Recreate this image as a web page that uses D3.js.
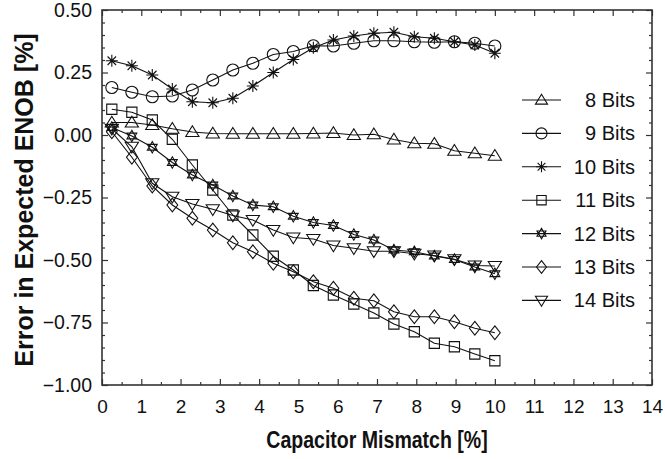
<!DOCTYPE html>
<html>
<head>
<meta charset="utf-8">
<script src="https://cdn.jsdelivr.net/npm/d3@7"></script>
<style>
    body { margin: 0; background: #fff; }
    text { font-family: "Liberation Sans", Arial, sans-serif; fill: #111; }
</style>
</head>
<body>
<script>
//capacitor mismatch values (x) shared by every series
const mismatch = [0.25, 0.76, 1.28, 1.79, 2.30, 2.82, 3.33, 3.84, 4.36, 4.87,
    5.38, 5.89, 6.41, 6.92, 7.43, 7.95, 8.46, 8.97, 9.49, 10.0];

//error in expected ENOB for each resolution
const bits8 = [0.05, 0.05, 0.04, 0.025, 0.012, 0.006, 0.005, 0.005, 0.005, 0.005,
    0.006, 0.008, 0.0, 0.003, -0.018, -0.033, -0.035, -0.063, -0.073, -0.083];
const bits9 = [0.19, 0.171, 0.153, 0.156, 0.18, 0.22, 0.26, 0.287, 0.322, 0.334,
    0.357, 0.356, 0.367, 0.377, 0.377, 0.373, 0.371, 0.373, 0.367, 0.356];
const bits10 = [0.297, 0.277, 0.24, 0.184, 0.133, 0.129, 0.147, 0.196, 0.25, 0.302,
    0.349, 0.38, 0.396, 0.407, 0.411, 0.393, 0.387, 0.373, 0.36, 0.327];
const bits11 = [0.103, 0.091, 0.06, -0.017, -0.12, -0.22, -0.32, -0.40, -0.485, -0.54,
    -0.602, -0.64, -0.676, -0.712, -0.756, -0.787, -0.833, -0.847, -0.876, -0.903];
const bits12 = [0.03, -0.004, -0.049, -0.11, -0.16, -0.20, -0.244, -0.28, -0.287, -0.325,
    -0.35, -0.362, -0.398, -0.42, -0.46, -0.467, -0.484, -0.498, -0.528, -0.555];
const bits13 = [0.013, -0.089, -0.204, -0.28, -0.333, -0.38, -0.431, -0.467, -0.513, -0.547,
    -0.587, -0.613, -0.653, -0.663, -0.707, -0.727, -0.727, -0.747, -0.773, -0.791];
const bits14 = [0.025, -0.047, -0.193, -0.247, -0.276, -0.297, -0.322, -0.34, -0.38, -0.41,
    -0.416, -0.442, -0.453, -0.465, -0.465, -0.475, -0.482, -0.497, -0.522, -0.524];

const seriesNames = ["8 Bits", "9 Bits", "10 Bits", "11 Bits", "12 Bits", "13 Bits", "14 Bits"];
const seriesValues = [bits8, bits9, bits10, bits11, bits12, bits13, bits14];
const markerTypes = ["triUp", "circle", "asterisk", "square", "hexagram", "diamond", "triDown"];

const xTicks = [0, 1, 2, 3, 4, 5, 6, 7, 8, 9, 10, 11, 12, 13, 14];
const yTicks = [0.5, 0.25, 0, -0.25, -0.5, -0.75, -1.0];

const width = 665, height = 459;
const margin = {top: 10, right: 13, bottom: 74, left: 102};

const svg = d3.select("body").append("svg")
    .attr("width", width).attr("height", height);

const x = d3.scaleLinear().domain([0, 14]).range([margin.left, width - margin.right]);
const y = d3.scaleLinear().domain([-1, 0.5]).range([height - margin.bottom, margin.top]);

//returns svg path string for a marker centred at 0,0
function markerPath(type, s) {
    const p = d3.path();
    if (type === "circle") {
        p.moveTo(s, 0);
        p.arc(0, 0, s, 0, 2 * Math.PI);
    } else if (type === "square") {
        p.rect(-s * 0.85, -s * 0.85, s * 1.7, s * 1.7);
    } else if (type === "diamond") {
        p.moveTo(0, -s * 1.15); p.lineTo(s * 0.9, 0); p.lineTo(0, s * 1.15); p.lineTo(-s * 0.9, 0); p.closePath();
    } else if (type === "triUp") {
        p.moveTo(0, -s * 1.05); p.lineTo(s * 1.1, s * 0.75); p.lineTo(-s * 1.1, s * 0.75); p.closePath();
    } else if (type === "triDown") {
        p.moveTo(0, s * 1.05); p.lineTo(s * 1.1, -s * 0.75); p.lineTo(-s * 1.1, -s * 0.75); p.closePath();
    } else if (type === "hexagram") {
        const r = s * 0.95;
        for (let k = 0; k < 2; k++) {
            for (let i = 0; i < 3; i++) {
                const a = -Math.PI / 2 + k * Math.PI + i * 2 * Math.PI / 3;
                if (i === 0) p.moveTo(r * Math.cos(a), r * Math.sin(a));
                else p.lineTo(r * Math.cos(a), r * Math.sin(a));
            }
            p.closePath();
        }
    } else if (type === "asterisk") {
        for (let i = 0; i < 4; i++) {
            const a = i * Math.PI / 4;
            p.moveTo(-s * Math.cos(a), -s * Math.sin(a));
            p.lineTo(s * Math.cos(a), s * Math.sin(a));
        }
    }
    return p.toString();
}

const plotW = width - margin.right - margin.left;
const plotH = height - margin.bottom - margin.top;

//axes: ticks pointing inward on all four sides
const axisColor = "#333";
function styleAxis(g) {
    g.select(".domain").remove();
    g.selectAll(".tick line").attr("stroke", axisColor).attr("stroke-width", 1.2);
}
const minorX = d3.range(0.5, 14, 1);
const minorY = d3.range(-1, 0.5, 0.05).filter(v => Math.abs(Math.round(v * 4) - v * 4) > 0.01);

svg.append("g").attr("transform", `translate(0,${height - margin.bottom})`)
    .call(d3.axisBottom(x).tickValues(xTicks).tickSize(-6).tickPadding(15).tickFormat(d3.format("d")))
    .call(styleAxis)
    .call(g => g.selectAll("text").attr("font-size", 19));
svg.append("g").attr("transform", `translate(0,${height - margin.bottom})`)
    .call(d3.axisBottom(x).tickValues(minorX).tickSize(-3).tickFormat(""))
    .call(styleAxis);
svg.append("g").attr("transform", `translate(0,${margin.top})`)
    .call(d3.axisTop(x).tickValues(xTicks).tickSize(-6).tickFormat(""))
    .call(styleAxis);
svg.append("g").attr("transform", `translate(0,${margin.top})`)
    .call(d3.axisTop(x).tickValues(minorX).tickSize(-3).tickFormat(""))
    .call(styleAxis);

svg.append("g").attr("transform", `translate(${margin.left},0)`)
    .call(d3.axisLeft(y).tickValues(yTicks).tickSize(-6).tickPadding(10).tickFormat(d3.format(".2f")))
    .call(styleAxis)
    .call(g => g.selectAll("text").attr("font-size", 19.5));
svg.append("g").attr("transform", `translate(${margin.left},0)`)
    .call(d3.axisLeft(y).tickValues(minorY).tickSize(-3).tickFormat(""))
    .call(styleAxis);
svg.append("g").attr("transform", `translate(${width - margin.right},0)`)
    .call(d3.axisRight(y).tickValues(yTicks).tickSize(-6).tickFormat(""))
    .call(styleAxis);
svg.append("g").attr("transform", `translate(${width - margin.right},0)`)
    .call(d3.axisRight(y).tickValues(minorY).tickSize(-3).tickFormat(""))
    .call(styleAxis);

//plot frame
svg.append("rect")
    .attr("x", margin.left).attr("y", margin.top)
    .attr("width", plotW).attr("height", plotH)
    .attr("fill", "none").attr("stroke", axisColor).attr("stroke-width", 1.6);

//axis titles (x title is a little condensed, like the original)
svg.append("text")
    .attr("transform", `translate(${x(7)},448) scale(0.85,1)`)
    .attr("text-anchor", "middle").attr("font-size", 23).attr("font-weight", "bold")
    .text("Capacitor Mismatch [%]");
svg.append("text")
    .attr("transform", "translate(33,200) rotate(-90)")
    .attr("text-anchor", "middle").attr("font-size", 25).attr("font-weight", "bold")
    .text("Error in Expected ENOB [%]");

//series lines and markers
const line = d3.line().x(d => x(d[0])).y(d => y(d[1]));
seriesValues.forEach(function(vals, i) {
    const pts = mismatch.map((m, j) => [m, vals[j]]);
    const g = svg.append("g");
    g.append("path").attr("d", line(pts))
        .attr("fill", "none").attr("stroke", "#111").attr("stroke-width", 1.1);
    g.selectAll("path.mk").data(pts).enter().append("path")
        .attr("class", "mk")
        .attr("transform", d => `translate(${x(d[0])},${y(d[1])})`)
        .attr("d", markerPath(markerTypes[i], 6))
        .attr("fill", "none").attr("stroke", "#111").attr("stroke-width", 1.1);
});

//legend
const legend = svg.append("g");
seriesNames.forEach(function(name, i) {
    const ly = 100 + i * 33.4;
    legend.append("line")
        .attr("x1", 522).attr("x2", 561).attr("y1", ly).attr("y2", ly)
        .attr("stroke", "#111").attr("stroke-width", 1.1);
    legend.append("path")
        .attr("transform", `translate(541.5,${ly})`)
        .attr("d", markerPath(markerTypes[i], 5.5))
        .attr("fill", "none").attr("stroke", "#111").attr("stroke-width", 1.1);
    legend.append("text")
        .attr("x", 635).attr("y", ly).attr("dy", "0.35em")
        .attr("text-anchor", "end").attr("font-size", 20)
        .text(name);
});
</script>
</body>
</html>
